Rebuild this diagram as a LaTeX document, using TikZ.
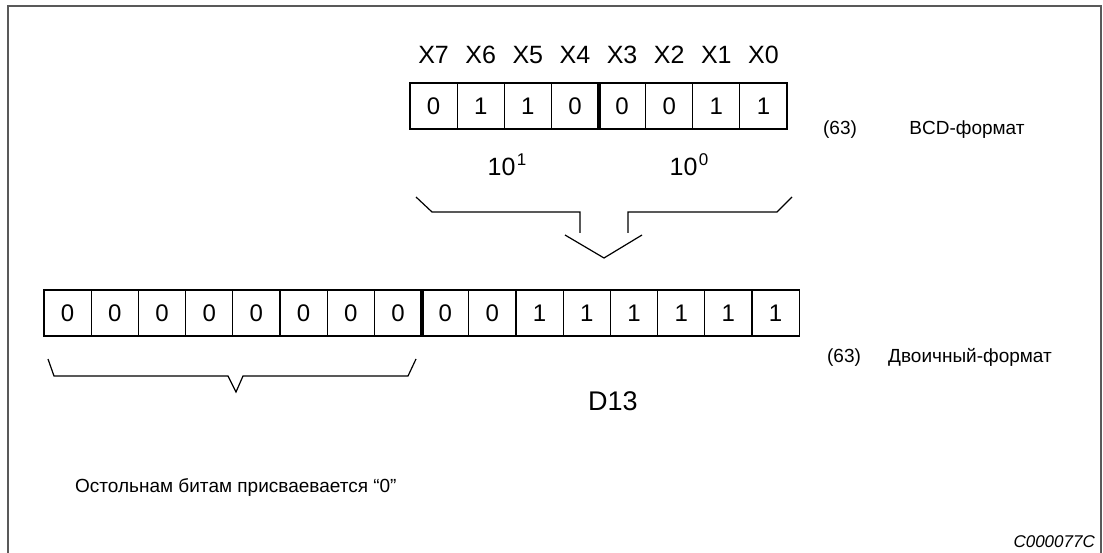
\documentclass[tikz,border=0pt]{standalone}
\usepackage{fontspec}
\setmainfont{Liberation Sans}
\tikzset{
  cell/.style={draw, line width=1.2pt, minimum height=46pt, inner sep=0pt, font=\fontsize{24}{26}\selectfont},
  lbl/.style={inner sep=0pt, anchor=base, font=\fontsize{25}{28}\selectfont},
  small/.style={inner sep=0pt, anchor=base, font=\fontsize{19}{22}\selectfont},
  brace/.style={line width=1.2pt},
  sep/.style={line width=3.5pt},
}
\newcommand{\supdigit}[1]{\kern1.5pt\raisebox{10pt}{\fontsize{17}{17}\selectfont #1}}
\begin{document}
\begin{tikzpicture}[x=1pt,y=-1pt]
\useasboundingbox (0,0) rectangle (1103,553);
% frame
\draw[line width=2pt, black!65] (7.5,560) -- (7.5,6.5) -- (1101,6.5) -- (1101,560);
% top register
\foreach \v [count=\i from 0] in {0,1,1,0,0,0,1,1}{
  \pgfmathsetmacro{\xc}{410+47.125*(\i+0.5)}
  \pgfmathtruncatemacro{\xn}{7-\i}
  \node[cell, minimum width=47.125pt] (t\i) at (\xc,106) {\v};
  \node[lbl] (x\i) at (\xc,64) {X\xn};
}
\draw[sep] (t3.north east) -- (t3.south east);
\node[lbl] (e1) at (507,176) {10\supdigit{1}};
\node[lbl] (e0) at (689,176) {10\supdigit{0}};
\node[small] (n1) at (840,135) {(63)};
\node[small] (f1) at (967,135) {BCD-формат};
% top brace
\draw[brace] (416,197) -- (432,212) -- (580,212) -- (580,233);
\draw[brace] (792,197) -- (777,212) -- (628,212) -- (628,233);
\draw[brace] (565,235) -- (604,258) -- (642,235);
% bottom register
\foreach \v [count=\i from 0] in {0,0,0,0,0,0,0,0,0,0,1,1,1,1,1,1}{
  \pgfmathsetmacro{\xc}{44+47.2*(\i+0.5)}
  \node[cell, minimum width=47.2pt] (b\i) at (\xc,313) {\v};
}
\draw[sep] (b7.north east) -- (b7.south east);
\node[small] (n2) at (844,362) {(63)};
\node[small] (f2) at (970,362) {Двоичный-формат};
\node[lbl, font=\fontsize{27}{30}\selectfont] (d13) at (613,410) {D13};
% bottom brace
\draw[brace] (48,359) -- (54,376) -- (228,376) -- (236,392) -- (243,376) -- (408,376) -- (416,359);
\node[small, anchor=base west] (rest) at (75,492) {Остольнам битам присваевается “0”};
\node[small, font=\fontsize{17}{19}\selectfont\itshape, anchor=base east] (code) at (1095,547) {C000077C};
\end{tikzpicture}
\end{document}
